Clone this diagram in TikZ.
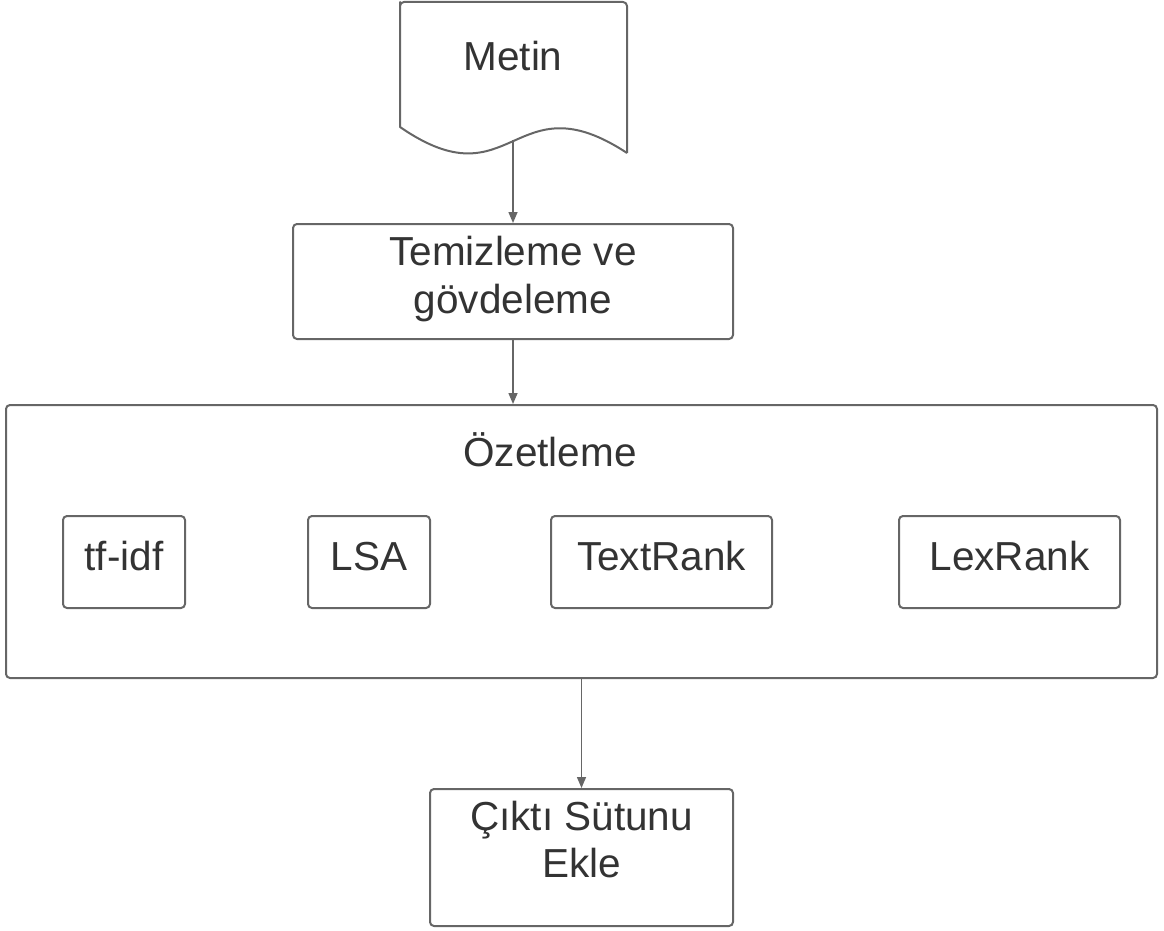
\documentclass[tikz,border=0pt]{standalone}
\usepackage{fontspec}
\setmainfont{Liberation Sans}
\usetikzlibrary{arrows.meta}
\definecolor{linegray}{HTML}{666666}
\definecolor{textgray}{HTML}{333333}
\begin{document}
\begin{tikzpicture}[x=1pt,y=-1pt,
  box/.style={draw=linegray,line width=2pt,rounded corners=4pt,inner sep=0pt},
  lbl/.style={text=textgray,font=\fontsize{40.5}{48}\selectfont,inner sep=0pt,anchor=base},
  arr/.style={draw=linegray,line width=1.5pt,-{Triangle[length=11pt,width=9pt]}}]
\useasboundingbox (0,0) rectangle (1164,931);
% document shape
\draw[draw=linegray,line width=2pt,line join=round]
  (627,153) -- (627,6) [rounded corners=4pt] -- (627,2) -- (400,2) -- (400,6) [sharp corners] -- (400,127)
  .. controls (513,205) and (513,78) .. (627,153);
\coordinate (docb) at (513,140);
\node[lbl] (metin) at (513,71) {Metin};
% cleaning box
\node[box,minimum width=440pt,minimum height=115pt] (temiz) at (513,281.5) {};
\node[lbl] (temiz1) at (513,265) {Temizleme ve};
\node[lbl] (temiz2) at (513,313) {gövdeleme};
% summarization container
\node[box,minimum width=1151pt,minimum height=273pt] (ozet) at (581.5,541.5) {};
\node[lbl] (ozett) at (550,466) {Özetleme};
% methods
\node[box,minimum width=122pt,minimum height=92pt] (tfidf) at (124,562) {};
\node[lbl] (tfidft) at (tfidf.center |- 0,570) {tf-idf};
\node[box,minimum width=122pt,minimum height=92pt] (lsa) at (369,562) {};
\node[lbl] (lsat) at (lsa.center |- 0,570) {LSA};
\node[box,minimum width=221pt,minimum height=92pt] (textrank) at (661.5,562) {};
\node[lbl] (textrankt) at (textrank.center |- 0,570) {TextRank};
\node[box,minimum width=221pt,minimum height=92pt] (lexrank) at (1009.5,562) {};
\node[lbl] (lexrankt) at (lexrank.center |- 0,570) {LexRank};
% output box
\node[box,minimum width=303pt,minimum height=137pt] (cikti) at (581.5,857.5) {};
\node[lbl] (cikti1) at (581.5,830) {Çıktı Sütunu};
\node[lbl] (cikti2) at (581.5,877) {Ekle};
% arrows
\draw[arr] (docb) -- (temiz.north);
\draw[arr] (temiz.south) -- (temiz.south |- ozet.north);
\draw[arr] (ozet.south) -- (cikti.north);
\end{tikzpicture}
\end{document}
